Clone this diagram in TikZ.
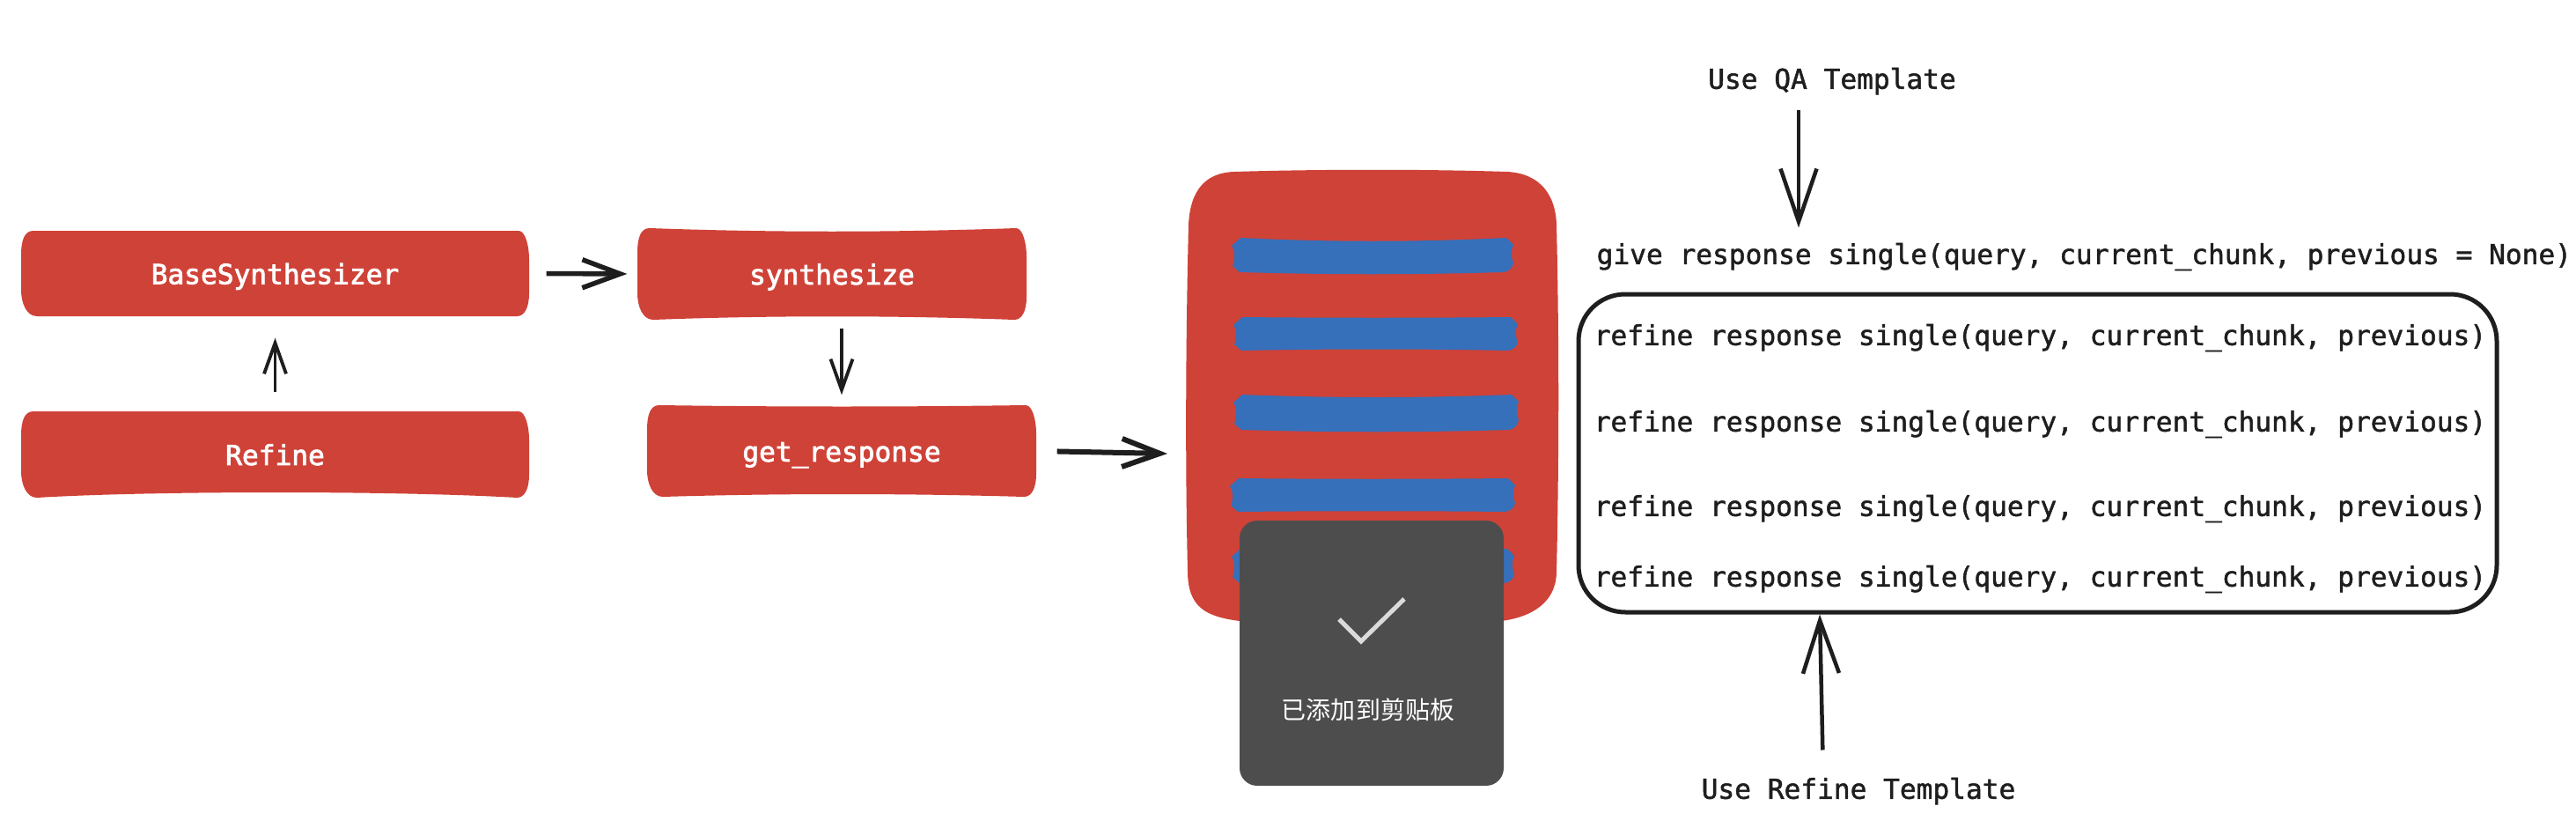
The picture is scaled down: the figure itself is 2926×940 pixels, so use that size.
\documentclass[tikz,border=0pt]{standalone}
\usepackage{fontspec}
\setmonofont[RawFeature={embolden=1.5}]{DejaVu Sans Mono}
\newfontfamily\labelfont[RawFeature={embolden=2.5}]{DejaVu Sans Mono}
\newfontfamily\cjkfont{Noto Sans CJK SC}
\usetikzlibrary{arrows.meta}
\definecolor{boxred}{HTML}{CF4238}
\definecolor{barblue}{HTML}{366FBA}
\definecolor{inkblack}{HTML}{1E1E1E}
\definecolor{toastgray}{HTML}{4D4D4D}
\definecolor{checkgray}{HTML}{DADADA}
\tikzset{
  codetext/.style={font=\ttfamily\fontsize{8.87}{10}\selectfont,text=inkblack,inner sep=0pt,text height=7pt,text depth=2pt},
  boxlabel/.style={font=\labelfont\fontsize{8.87}{10}\selectfont,text=white,inner sep=0pt,text height=8.4pt,text depth=1.6pt},
  thinarrow/.style={-{Straight Barb[length=3.5mm,width=2.5mm]},line width=0.38mm,inkblack},
  midarrow/.style={-{Straight Barb[length=6mm,width=4.1mm]},line width=0.45mm,inkblack},
  thickarrow/.style={-{Straight Barb[length=4.3mm,width=3.2mm]},line width=0.55mm,inkblack}
}
\newcommand{\sketchbox}[8]{
  \fill[boxred] ({#2+14},#3) .. controls ({#2+150},{#3+#6}) and ({#4-150},{#3+#6}) .. ({#4-12},#3)
    .. controls ({#4-4},#3) and (#4,{#3+18}) .. (#4,{#3+32}) -- (#4,{#5-26})
    .. controls (#4,{#5-10}) and ({#4-5},#5) .. ({#4-14},#5)
    .. controls ({#4-150},{#5-#7}) and ({#2+150},{#5-#7}) .. ({#2+18},#5)
    .. controls ({#2+6},#5) and (#2,{#5-15}) .. (#2,{#5-30}) -- (#2,{#3+28})
    .. controls (#2,{#3+10}) and ({#2+4},#3) .. ({#2+14},#3) -- cycle;
  \node[boxlabel,minimum width={(#4-#2)*0.1mm},minimum height={(#5-#3)*0.1mm}] (#1) at ({(#2+#4)/2},{(#3+#5)/2}) {#8};
}
\newcommand{\sketchbar}[6]{
  \fill[barblue] ({#1+10},#2) .. controls ({#1+110},{#2+#5}) and ({#3-110},{#2+#5}) .. ({#3-8},#2)
    -- (#3,{#2+8}) .. controls ({#3-3},{#2+15}) and ({#3-3},{#2+22}) .. (#3,{#2+28})
    .. controls (#3,{#4-5}) and ({#3-6},#4) .. ({#3-12},#4)
    .. controls ({#3-110},{#4+#6}) and ({#1+110},{#4+#6}) .. ({#1+9},#4)
    -- ({#1+1},{#4-7}) .. controls ({#1+4},{#4-15}) and ({#1+4},{#2+15}) .. (#1,{#2+9}) -- cycle;
}
\begin{document}
\begin{tikzpicture}[x=0.1mm,y=-0.1mm]
  \useasboundingbox (0,0) rectangle (2926,940);
  \sketchbox{base}{24}{262}{601}{359}{0}{0}{BaseSynthesizer}
  \sketchbox{synth}{724}{259}{1166}{363}{5}{5}{synthesize}
  \sketchbox{refine}{24}{467}{601}{565}{0}{8}{Refine}
  \sketchbox{getresp}{735}{460}{1177}{564}{2}{4}{get\_response}
  \draw[thickarrow,shorten <=1.9mm,shorten >=1.1mm] (base.east) -- (synth.west);
  \draw[thinarrow,shorten <=2.1mm,shorten >=2.4mm] (refine.north) -- (base.south);
  \draw[thinarrow,shorten <=0.9mm,shorten >=1.1mm] (synth.south -| getresp.north) -- (getresp.north);
  \fill[boxred] (1402,195) .. controls (1500,192) and (1620,192) .. (1712,195)
    .. controls (1750,197) and (1767,222) .. (1768,255)
    .. controls (1771,380) and (1771,520) .. (1768,650)
    .. controls (1767,690) and (1730,702) .. (1705,705) -- (1408,705)
    .. controls (1370,700) and (1349,690) .. (1349,648)
    .. controls (1346,520) and (1347,380) .. (1350,255)
    .. controls (1352,215) and (1370,196) .. (1402,195) -- cycle;
  \coordinate (docin) at (1326,515);
  \draw[thickarrow,line width=0.6mm,shorten <=2.3mm] (getresp.east) -- (docin);
  \sketchbar{1399}{270}{1719}{309}{5}{3}
  \sketchbar{1401}{360}{1724}{398}{1}{-2}
  \sketchbar{1401}{448}{1725}{488}{4}{3}
  \sketchbar{1397}{543}{1721}{581}{1}{-1}
  \sketchbar{1399}{623}{1720}{662}{1}{1}
  \node[fill=toastgray,rounded corners=2mm,minimum width=30mm,minimum height=30.1mm,inner sep=0pt] (toast) at (1558,741.5) {};
  \draw[checkgray,line width=0.5mm] (1521,703) -- (1546,728) -- (1595,680);
  \node[font=\cjkfont\fontsize{7.97}{10}\selectfont,text=white,inner sep=0pt] (toastmsg) at (1554,806) {已添加到剪贴板};
  \node[codetext] (qa) at (2081,92) {Use QA Template};
  \node[codetext,anchor=west] (give) at (1813,291) {give response single(query, current\_chunk, previous = None)};
  \node[draw=inkblack,line width=0.5mm,rounded corners=5.3mm,minimum width=104.3mm,minimum height=36.1mm,inner sep=0pt] (respbox) at (2314.5,514.5) {};
  \foreach \i/\y in {1/383,2/481,3/577,4/657}
    \node[codetext,anchor=west] (refine\i) at (1810,\y) {refine response single(query, current\_chunk, previous)};
  \node[codetext] (refinetpl) at (2111,898) {Use Refine Template};
  \draw[midarrow,shorten <=1.6mm,shorten >=1.6mm] ([xshift=-3.8mm]qa.south) -- ([xshift=-3.8mm]qa.south |- give.north);
  \draw[midarrow,shorten <=3mm] ([xshift=-4mm]refinetpl.north) -- ([xshift=-4.4mm]refinetpl.north |- respbox.south);
\end{tikzpicture}
\end{document}
